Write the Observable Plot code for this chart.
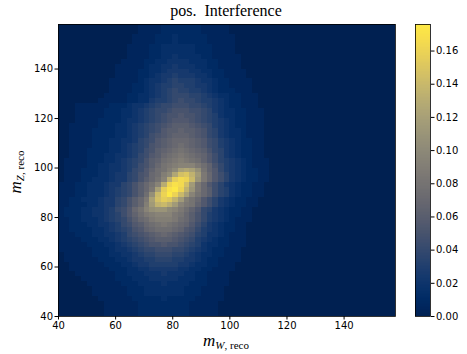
<!DOCTYPE html>
<html><head><meta charset="utf-8">
<script src="https://cdn.jsdelivr.net/npm/d3@7"></script>
<script src="https://cdn.jsdelivr.net/npm/@observablehq/plot@0.6"></script>
<style>
body{margin:0;background:#fff;}
#wrap{position:relative;width:467px;height:354px;overflow:hidden;}
#wrap svg{position:absolute;top:0;}
.lbl{position:absolute;font-family:"Liberation Serif","DejaVu Serif",serif;color:#000;white-space:nowrap;text-align:center;}
.lbl sub{font-size:11px;vertical-align:-3px;}
</style></head><body><div id="wrap">
<div class="lbl" style="left:126px;width:200px;top:0px;font-size:16px;line-height:22px;">pos.&nbsp; Interference</div>
<div class="lbl" style="left:126px;width:200px;top:331px;font-size:17px;line-height:20px;"><i>m</i><sub><i>W</i>, reco</sub></div>
<div class="lbl" style="left:-82px;width:200px;top:160px;font-size:17px;line-height:20px;transform:rotate(-90deg);"><i>m</i><sub><i>Z</i>, reco</sub></div>
</div>
<script>
// histogram binning
const xStart = 40, yStart = 40, binWidth = 2, nBins = 59;
const levelStep = 0.005;       // one level character = 0.005
const vMax = 0.176;            // colour scale maximum
const xTicks = [40, 60, 80, 100, 120, 140];
const yTicks = [40, 60, 80, 100, 120, 140];
const cbarTicks = [0, 0.02, 0.04, 0.06, 0.08, 0.10, 0.12, 0.14, 0.16];
// rows from bottom (m_Z 40-42) to top (156-158): [first column index, levels in base 36]
const zRows = [
  [8, "11111122222222211111"],
  [8, "11111122222222211111"],
  [8, "11111122222222211111"],
  [7, "1111112222232222211111"],
  [6, "11111122233333332221111"],
  [6, "11111122233333332221111"],
  [5, "1111112223333433332221111"],
  [4, "11111122233344444333221111"],
  [3, "111111122333444544433221111"],
  [2, "11111112223344555554433221111"],
  [2, "11111122233455666665543322111"],
  [1, "1111112223345566777665543221111"],
  [1, "1111122233445677888776543322111"],
  [0, "11111122234456788999887654322111"],
  [0, "1111122233456789aabaa987643322111"],
  [0, "111122233456789abcccba98654322111"],
  [0, "11122233445689abcdedcba9764432111"],
  [0, "1122223345678abdefffedba865432211"],
  [0, "1122233445689bcefghgfedb975432211"],
  [0, "112233345678acefhiiihfeca865432111"],
  [0, "122233445679bdfhijjjhgeca865432211"],
  [0, "122233445689begjlmmkjhfdb875432211"],
  [0, "112223345578aceinrsqnjhgdb975432211"],
  [0, "112233345578acehotvurnigeb975432211"],
  [0, "1112233345678acflswzwsojgec976432211"],
  [0, "1112233345678acehovyzwrmhec976432211"],
  [0, "1112233345578acegjqwyxtnheb975432211"],
  [1, "1112233345578acegjqvxwsmheb975432211"],
  [1, "1112223345578abefikpturnheb975432211"],
  [1, "11122233445689bdfgikopolgdb865432211"],
  [1, "11112233445679aceghijjjhfda865432111"],
  [1, "11112223345678acdfghihgfdb9765432111"],
  [2, "11122233445689bcefghgfedb975432211"],
  [2, "11122223345679acdefgfedca875432211"],
  [2, "11112223345678abcdefedcb9865432211"],
  [2, "111122233445789bcdeeedcb9865432211"],
  [2, "111122223345679abcdddcba8754332111"],
  [2, "1111222233456789bccdccba8754332111"],
  [2, "1111122233456789abcccba98654322111"],
  [3, "1111222234456789abbba987654322111"],
  [3, "1111122233456789aabaa987643322111"],
  [3, "11111222334567889aaa9987543322111"],
  [3, "11111122234456788999887654322111"],
  [7, "1111122335667898876654322111"],
  [8, "111122334567888776543322111"],
  [9, "1111223456787766543222111"],
  [9, "1111223456677665543221111"],
  [9, "1111123445676665443221111"],
  [10, "11112234556555443221111"],
  [10, "11112233455554433221111"],
  [10, "1111123344544433221111"],
  [11, "111122334444333221111"],
  [12, "11112233433332211111"],
  [12, "1111223333332221111"],
  [12, "1111223333332221111"],
  [13, "111122232222211111"],
  [13, "111122232222211111"],
  [14, "1111222222211111"],
  [14, "1111222222211111"]
];

const cells = [];
zRows.forEach(([start, s], r) => {
  for (let c = 0; c < nBins; c++) {
    const i = c - start;
    const lvl = (i >= 0 && i < s.length) ? parseInt(s[i], 36) : 0;
    cells.push({
      x1: xStart + c * binWidth, x2: xStart + (c + 1) * binWidth,
      y1: yStart + r * binWidth, y2: yStart + (r + 1) * binWidth,
      v: lvl * levelStep
    });
  }
});
const xEnd = xStart + nBins * binWidth, yEnd = yStart + zRows.length * binWidth;

const colorOpts = {type: "linear", scheme: "cividis", domain: [0, vMax]};
const axisStyle = {fontFamily: "DejaVu Sans, sans-serif", fontSize: "10px", color: "#000", background: "transparent", overflow: "visible"};

const main = Plot.plot({
  width: 467, height: 354,
  marginLeft: 58, marginRight: 72, marginTop: 24, marginBottom: 38,
  style: axisStyle,
  x: {domain: [xStart, xEnd], ticks: xTicks, tickSize: 3.5, tickPadding: 2, label: null},
  y: {domain: [yStart, yEnd], ticks: yTicks, tickSize: 3.5, tickPadding: 2, label: null},
  color: colorOpts,
  marks: [
    Plot.rect(cells, {x1: "x1", x2: "x2", y1: "y1", y2: "y2", fill: "v", shapeRendering: "crispEdges"}),
    Plot.frame({stroke: "#000", strokeWidth: 0.8})
  ]
});
main.style.left = "0px";
document.getElementById("wrap").appendChild(main);

const nRamp = 200;
const ramp = d3.range(nRamp).map(i => ({lo: i * vMax / nRamp, hi: (i + 1) * vMax / nRamp, mid: (i + 0.5) * vMax / nRamp, a: 0, b: 1}));
const cbar = Plot.plot({
  width: 67, height: 354,
  marginLeft: 15, marginRight: 37, marginTop: 24, marginBottom: 38,
  style: axisStyle,
  x: {domain: [0, 1], axis: null},
  y: {domain: [0, vMax], ticks: cbarTicks, tickFormat: ".2f", tickSize: 3.5, tickPadding: 2, axis: "right", label: null},
  color: colorOpts,
  marks: [
    Plot.rect(ramp, {x1: "a", x2: "b", y1: "lo", y2: "hi", fill: "mid", shapeRendering: "crispEdges"}),
    Plot.frame({stroke: "#000", strokeWidth: 0.8})
  ]
});
cbar.style.left = "400px";
document.getElementById("wrap").appendChild(cbar);
</script>
</body></html>
